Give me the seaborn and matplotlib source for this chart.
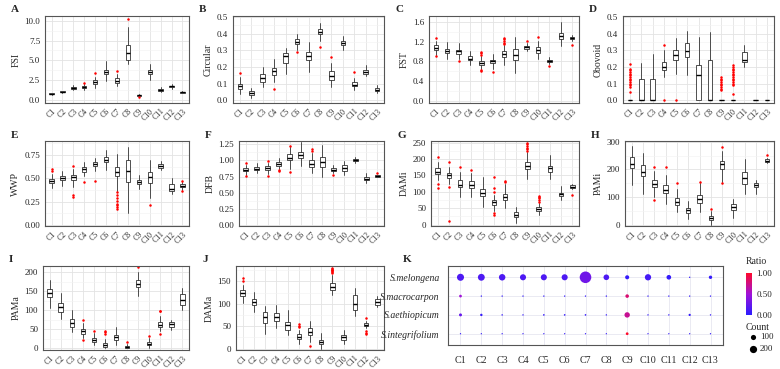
import numpy as np
import pandas as pd
import seaborn as sns
import matplotlib.pyplot as plt
from matplotlib.colors import LinearSegmentedColormap, Normalize
from matplotlib.ticker import AutoMinorLocator, FixedLocator

groups = ['C1', 'C2', 'C3', 'C4', 'C5', 'C6', 'C7', 'C8', 'C9', 'C10', 'C11', 'C12', 'C13']

# box statistics: lower whisker, q1, median, q3, upper whisker, outliers
fsi_lo  = [0.65, 0.85, 1.2, 1.2, 1.5, 2.4, 1.7, 4.5, 0.45, 2.5, 0.95, 1.4, 0.85]
fsi_q1  = [0.7, 0.95, 1.35, 1.45, 1.95, 3.2, 2.1, 5.0, 0.52, 3.2, 1.1, 1.55, 0.9]
fsi_med = [0.75, 1.0, 1.5, 1.6, 2.2, 3.5, 2.4, 5.9, 0.6, 3.5, 1.25, 1.7, 0.95]
fsi_q3  = [0.8, 1.05, 1.6, 1.75, 2.45, 3.8, 2.7, 6.9, 0.65, 3.8, 1.4, 1.8, 1.0]
fsi_hi  = [0.85, 1.15, 1.85, 2.0, 2.9, 4.9, 3.3, 9.2, 0.7, 4.5, 1.6, 2.0, 1.05]
fsi_out = [[], [], [], [2.15], [3.35], [], [3.6], [10.3], [0.35], [], [], [], []]

cir_lo  = [0.04, 0.015, 0.08, 0.11, 0.16, 0.3, 0.17, 0.355, 0.08, 0.3, 0.06, 0.145, 0.045]
cir_q1  = [0.07, 0.035, 0.11, 0.155, 0.225, 0.335, 0.24, 0.395, 0.12, 0.33, 0.085, 0.16, 0.055]
cir_med = [0.085, 0.045, 0.135, 0.175, 0.265, 0.35, 0.265, 0.41, 0.145, 0.345, 0.095, 0.17, 0.065]
cir_q3  = [0.1, 0.055, 0.16, 0.195, 0.285, 0.365, 0.29, 0.425, 0.175, 0.355, 0.11, 0.185, 0.072]
cir_hi  = [0.14, 0.075, 0.2, 0.25, 0.315, 0.4, 0.35, 0.465, 0.225, 0.385, 0.135, 0.21, 0.09]
cir_out = [[0.165], [], [], [0.07], [], [0.29], [], [0.32], [0.26], [], [0.17], [], []]

fst_lo  = [0.93, 0.85, 0.85, 0.73, 0.65, 0.65, 0.73, 0.57, 1.0, 0.85, 0.75, 1.1, 1.22]
fst_q1  = [1.02, 0.96, 0.95, 0.82, 0.73, 0.76, 0.88, 0.83, 1.05, 0.97, 0.78, 1.26, 1.26]
fst_med = [1.07, 1.0, 1.0, 0.85, 0.77, 0.8, 0.95, 0.93, 1.08, 1.03, 0.8, 1.32, 1.28]
fst_q3  = [1.12, 1.05, 1.03, 0.9, 0.8, 0.83, 1.0, 1.05, 1.1, 1.08, 0.83, 1.38, 1.3]
fst_hi  = [1.22, 1.2, 1.18, 1.0, 0.9, 0.95, 1.12, 1.29, 1.18, 1.22, 0.88, 1.6, 1.33]
fst_out = [[1.28, 0.9], [], [0.8], [], [0.93, 0.96, 0.99, 0.6, 0.63], [0.59],
           [1.15, 1.18, 1.21, 1.25, 1.27], [], [1.22], [1.3], [0.7], [], [1.13]]

obo_lo  = [0, 0, 0, 0.14, 0.16, 0.15, 0, 0, 0, 0, 0.2, 0, 0]
obo_q1  = [0, 0, 0, 0.18, 0.24, 0.26, 0, 0, 0, 0, 0.23, 0, 0]
obo_med = [0, 0, 0, 0.2, 0.27, 0.295, 0.155, 0, 0, 0, 0.245, 0, 0]
obo_q3  = [0, 0.13, 0.13, 0.23, 0.3, 0.345, 0.215, 0.245, 0, 0, 0.29, 0, 0]
obo_hi  = [0, 0.225, 0.28, 0.3, 0.375, 0.415, 0.38, 0.41, 0, 0, 0.33, 0, 0]
obo_out = [[0.05, 0.08, 0.09, 0.1, 0.11, 0.12, 0.13, 0.14, 0.15, 0.16, 0.17, 0.18, 0.19, 0.22],
           [], [], [0.33, 0.0], [0.0], [], [], [],
           [0.06, 0.07, 0.08, 0.09, 0.1, 0.11, 0.12, 0.13, 0.14],
           [0.04, 0.09, 0.1, 0.11, 0.12, 0.13, 0.14, 0.15, 0.16, 0.17, 0.18, 0.19, 0.2, 0.21],
           [], [], []]

wwp_lo  = [0.4, 0.42, 0.41, 0.52, 0.58, 0.59, 0.37, 0.13, 0.39, 0.29, 0.59, 0.33, 0.38]
wwp_q1  = [0.45, 0.48, 0.48, 0.57, 0.63, 0.67, 0.52, 0.46, 0.44, 0.45, 0.61, 0.37, 0.41]
wwp_med = [0.47, 0.5, 0.51, 0.6, 0.65, 0.7, 0.57, 0.58, 0.46, 0.51, 0.63, 0.39, 0.42]
wwp_q3  = [0.49, 0.53, 0.54, 0.62, 0.67, 0.73, 0.62, 0.7, 0.48, 0.57, 0.65, 0.44, 0.44]
wwp_hi  = [0.55, 0.58, 0.6, 0.68, 0.72, 0.8, 0.76, 0.84, 0.54, 0.7, 0.69, 0.5, 0.46]
wwp_out = [[0.58, 0.6], [], [0.63, 0.3, 0.32], [0.46], [0.47], [],
           [0.17, 0.19, 0.21, 0.23, 0.26, 0.29, 0.32, 0.35], [], [], [0.22], [], [], [0.47, 0.37]]

dfb_lo  = [0.78, 0.8, 0.79, 0.87, 0.87, 0.92, 0.8, 0.75, 0.8, 0.78, 0.96, 0.65, 0.74]
dfb_q1  = [0.83, 0.85, 0.85, 0.92, 1.0, 1.04, 0.9, 0.9, 0.84, 0.84, 0.99, 0.7, 0.75]
dfb_med = [0.86, 0.87, 0.88, 0.95, 1.04, 1.08, 0.95, 0.97, 0.86, 0.88, 1.0, 0.72, 0.76]
dfb_q3  = [0.89, 0.9, 0.91, 0.98, 1.1, 1.13, 1.0, 1.06, 0.89, 0.93, 1.02, 0.75, 0.77]
dfb_hi  = [0.93, 0.96, 0.96, 1.04, 1.2, 1.29, 1.11, 1.24, 0.93, 0.99, 1.06, 0.8, 0.78]
dfb_out = [[0.96, 0.76], [], [0.99, 0.76], [0.84, 0.85], [1.23, 0.82], [], [1.15, 1.18],
           [], [0.78], [], [], [], [0.8]]

dami_lo  = [135, 125, 85, 85, 55, 42, 50, 5, 140, 28, 138, 75, 108]
dami_q1  = [153, 143, 115, 113, 88, 60, 75, 22, 170, 42, 160, 87, 112]
dami_med = [162, 150, 122, 122, 98, 68, 85, 30, 180, 48, 172, 92, 115]
dami_q3  = [172, 158, 135, 133, 110, 75, 95, 38, 190, 55, 180, 98, 120]
dami_hi  = [190, 175, 160, 158, 145, 90, 125, 55, 220, 65, 213, 118, 125]
dami_out = [[205, 125, 112], [190, 115, 12], [177], [167], [], [100, 113, 145, 35, 30],
            [130, 133], [], [225, 230, 235, 240, 245, 250], [70, 75, 80, 85, 88], [], [], [90]]

pami_lo  = [145, 110, 100, 75, 45, 22, 45, 0, 155, 25, 112, 112, 222]
pami_q1  = [205, 175, 135, 115, 70, 43, 78, 18, 200, 53, 148, 135, 226]
pami_med = [220, 192, 148, 127, 83, 52, 92, 25, 218, 63, 168, 143, 232]
pami_q3  = [245, 215, 162, 142, 95, 60, 107, 32, 230, 75, 192, 150, 236]
pami_hi  = [285, 260, 195, 178, 130, 87, 150, 50, 268, 92, 237, 162, 240]
pami_out = [[], [], [207, 88], [208], [150], [], [155], [57], [282, 150], [], [], [], [252]]

pama_lo  = [105, 77, 42, 28, 8, 0, 10, 0, 137, 2, 45, 48, 102]
pama_q1  = [135, 95, 55, 38, 17, 5, 22, 1, 160, 8, 55, 57, 115]
pama_med = [145, 108, 67, 45, 22, 10, 30, 3, 170, 13, 62, 63, 128]
pama_q3  = [155, 120, 78, 52, 27, 14, 35, 7, 180, 18, 70, 70, 142]
pama_hi  = [180, 145, 100, 67, 40, 25, 55, 13, 200, 27, 85, 75, 158]
pama_out = [[], [], [], [75, 22], [45], [38, 43, 47], [], [18], [213], [33], [97, 99, 37], [], []]

dama_lo  = [102, 82, 33, 45, 30, 10, 15, 0, 120, 10, 73, 45, 92]
dama_q1  = [118, 97, 58, 62, 42, 22, 30, 10, 130, 20, 85, 50, 97]
dama_med = [123, 103, 70, 70, 52, 27, 37, 15, 137, 25, 100, 53, 103]
dama_q3  = [130, 110, 82, 80, 60, 32, 45, 20, 147, 30, 120, 57, 110]
dama_hi  = [142, 127, 95, 97, 85, 42, 62, 35, 165, 42, 135, 62, 118]
dama_out = [[150, 157], [], [], [], [], [48, 50, 55], [7], [],
            [168, 170, 172, 174, 176, 178, 180], [], [], [68, 40, 35, 33], []]

# panel K: number of accessions and ratio per species and cluster
species = ['S.melongena', 'S.macrocarpon', 'S.aethiopicum', 'S.integrifolium']
melongena_count = [190, 180, 160, 140, 140, 140, 520, 120, 60, 150, 80, 3, 40]
macrocarpon_count = [25, 3, 3, 3, 3, 3, 3, 3, 45, 3, 3, 3, 3]
aethiopicum_count = [30, 18, 4, 3, 6, 6, 6, 3, 110, 3, 3, 15, 3]
integrifolium_count = [2, 2, 2, 2, 2, 2, 2, 2, 25, 2, 2, 2, 2]
melongena_ratio = [0.15, 0.15, 0.15, 0.15, 0.15, 0.15, 0.3, 0.15, 0.05, 0.12, 0.05, 0.05, 0.05]
macrocarpon_ratio = [0.5, 0.05, 0.05, 0.05, 0.05, 0.05, 0.05, 0.05, 0.8, 0.05, 0.05, 0.05, 0.05]
aethiopicum_ratio = [0.25, 0.05, 0.05, 0.05, 0.05, 0.05, 0.05, 0.05, 0.7, 0.05, 0.05, 0.05, 0.05]
integrifolium_ratio = [0.05, 0.05, 0.05, 0.05, 0.05, 0.05, 0.05, 0.05, 1.0, 0.05, 0.05, 0.05, 0.05]

sns.set_theme(style='white')
plt.rcParams['font.family'] = ['Liberation Serif', 'DejaVu Serif']

fig = plt.figure(figsize=(7.8, 3.69), dpi=100)
W, H = 780, 369


def px_axes(left, top, right, bottom):
    return fig.add_axes([left / W, 1 - bottom / H, (right - left) / W, (bottom - top) / H])


def style_axes(ax):
    for s in ax.spines.values():
        s.set_color('#555555')
        s.set_linewidth(0.8)
    ax.set_axisbelow(True)
    ax.grid(which='major', color='#E3E3E3', linewidth=0.6)
    ax.grid(which='minor', axis='y', color='#F2F2F2', linewidth=0.4)
    ax.tick_params(which='major', length=2, width=0.5, color='#555555', pad=1.5)
    ax.tick_params(which='minor', length=0)


panels = [
    ('A', 'FSI', (45, 16, 189, 103), (fsi_lo, fsi_q1, fsi_med, fsi_q3, fsi_hi, fsi_out), [0, 2.5, 5, 7.5, 10], '%.1f', (-0.42, 10.63)),
    ('B', 'Circular', (233, 16, 384, 103), (cir_lo, cir_q1, cir_med, cir_q3, cir_hi, cir_out), [0, 0.1, 0.2, 0.3, 0.4, 0.5], '%.1f', (-0.015, 0.505)),
    ('C', 'FST', (429, 16, 579, 103), (fst_lo, fst_q1, fst_med, fst_q3, fst_hi, fst_out), [0, 0.4, 0.8, 1.2, 1.6], '%.1f', (-0.05, 1.72)),
    ('D', 'Obovoid', (623, 16, 774, 103), (obo_lo, obo_q1, obo_med, obo_q3, obo_hi, obo_out), [0, 0.1, 0.2, 0.3, 0.4, 0.5], '%.1f', (-0.015, 0.505)),
    ('E', 'WWP', (45, 141, 189, 226), (wwp_lo, wwp_q1, wwp_med, wwp_q3, wwp_hi, wwp_out), [0, 0.25, 0.5, 0.75], '%.2f', (-0.01, 0.9)),
    ('F', 'DFB', (239, 141, 384, 226), (dfb_lo, dfb_q1, dfb_med, dfb_q3, dfb_hi, dfb_out), [0, 0.25, 0.5, 0.75, 1.0, 1.25], '%.2f', (-0.01, 1.3)),
    ('G', 'DAMi', (431, 141, 579, 226), (dami_lo, dami_q1, dami_med, dami_q3, dami_hi, dami_out), [0, 50, 100, 150, 200, 250], '%d', (-4, 255)),
    ('H', 'PAMi', (625, 141, 774, 226), (pami_lo, pami_q1, pami_med, pami_q3, pami_hi, pami_out), [0, 100, 200, 300], '%d', (-5, 303)),
    ('I', 'PAMa', (43, 266, 189, 350), (pama_lo, pama_q1, pama_med, pama_q3, pama_hi, pama_out), [0, 50, 100, 150, 200], '%d', (-4, 216)),
    ('J', 'DAMa', (236, 266, 384, 350), (dama_lo, dama_q1, dama_med, dama_q3, dama_hi, dama_out), [0, 50, 100, 150], '%d', (-3, 184)),
]

for letter, label, box, stats, ticks, fmt, ylim in panels:
    ax = px_axes(*box)
    lo, q1, med, q3, hi, out = stats
    bstats = [dict(whislo=lo[i], q1=q1[i], med=med[i], q3=q3[i], whishi=hi[i], fliers=out[i])
              for i in range(len(groups))]
    ax.bxp(bstats, positions=range(len(groups)), widths=0.4, patch_artist=True, showcaps=False,
           boxprops=dict(facecolor='white', edgecolor='#333333', linewidth=0.6),
           whiskerprops=dict(color='#333333', linewidth=0.6),
           medianprops=dict(color='black', linewidth=1.0),
           flierprops=dict(marker='o', markersize=1.8, markerfacecolor='red', markeredgecolor='none'))
    ax.set_xlim(-0.6, len(groups) - 0.4)
    ax.set_ylim(*ylim)
    ax.set_xticks(range(len(groups)))
    ax.set_xticklabels(groups, rotation=45, ha='right', rotation_mode='anchor', fontsize=5.6)
    ax.yaxis.set_major_locator(FixedLocator(ticks))
    ax.set_yticklabels([fmt % t for t in ticks], fontsize=6.5)
    ax.yaxis.set_minor_locator(AutoMinorLocator(2))
    ax.set_ylabel(label, fontsize=7, labelpad=3)
    style_axes(ax)
    ax.tick_params(axis='x', pad=1)
    bx, by = box[0], box[1]
    fig.text((bx - 34) / W, 1 - (by - 6) / H, letter, fontsize=8, fontweight='bold', ha='left', va='center')

# panel K bubble chart
kdf = pd.DataFrame({
    'cluster': groups * 4,
    'species': [s for s in species for _ in groups],
    'count': melongena_count + macrocarpon_count + aethiopicum_count + integrifolium_count,
    'ratio': melongena_ratio + macrocarpon_ratio + aethiopicum_ratio + integrifolium_ratio,
})
cmap = LinearSegmentedColormap.from_list('ratio', ['#2A1CFF', '#A012D8', '#FF0A2A'])
norm = Normalize(0, 1)
smin, smax, cmax = 0.6, 80, 600

axk = px_axes(448, 266, 723, 345)
sns.scatterplot(data=kdf, x='cluster', y='species', hue='ratio', hue_norm=norm, palette=cmap,
                size='count', sizes=(smin, smax), size_norm=(0, cmax), linewidth=0,
                legend=False, ax=axk)
axk.set_xlim(-0.6, len(groups) - 0.4)
axk.set_ylim(3.6, -0.6)
axk.set_xlabel('')
axk.set_ylabel('')
axk.tick_params(axis='x', labelsize=7.2, pad=4)
axk.tick_params(axis='y', labelsize=7)
for t in axk.get_yticklabels():
    t.set_fontstyle('italic')
style_axes(axk)
axk.grid(which='major', color='#E6E6F0', linewidth=0.6)
axk.tick_params(which='major', length=3, width=0.5, color='#555555', pad=3)
axk.tick_params(axis='x', pad=5)
fig.text(403 / W, 1 - 260 / H, 'K', fontsize=8, fontweight='bold', ha='left', va='center')

# legends for panel K
cax = px_axes(746, 273, 752, 315)
cb = fig.colorbar(plt.cm.ScalarMappable(norm=norm, cmap=cmap), cax=cax)
cb.set_ticks([0, 0.5, 1])
cb.set_ticklabels(['0.00', '0.50', '1.00'])
cb.outline.set_visible(False)
cax.tick_params(labelsize=6.5, length=1.5, width=0.5, color='white', pad=1.5)
fig.text(746 / W, 1 - 262 / H, 'Ratio', fontsize=7, ha='left', va='center')
fig.text(746 / W, 1 - 327 / H, 'Count', fontsize=7, ha='left', va='center')

lax = fig.add_axes([0, 0, 1, 1])
lax.set_xlim(0, W)
lax.set_ylim(H, 0)
lax.axis('off')
for c, yy in [(100, 337), (200, 349)]:
    lax.scatter([753], [yy], s=smin + (smax - smin) * c / cmax, color='black', linewidth=0)
    lax.text(760, yy, str(c), fontsize=6.5, ha='left', va='center')

fig.savefig('out.png', dpi=100)
